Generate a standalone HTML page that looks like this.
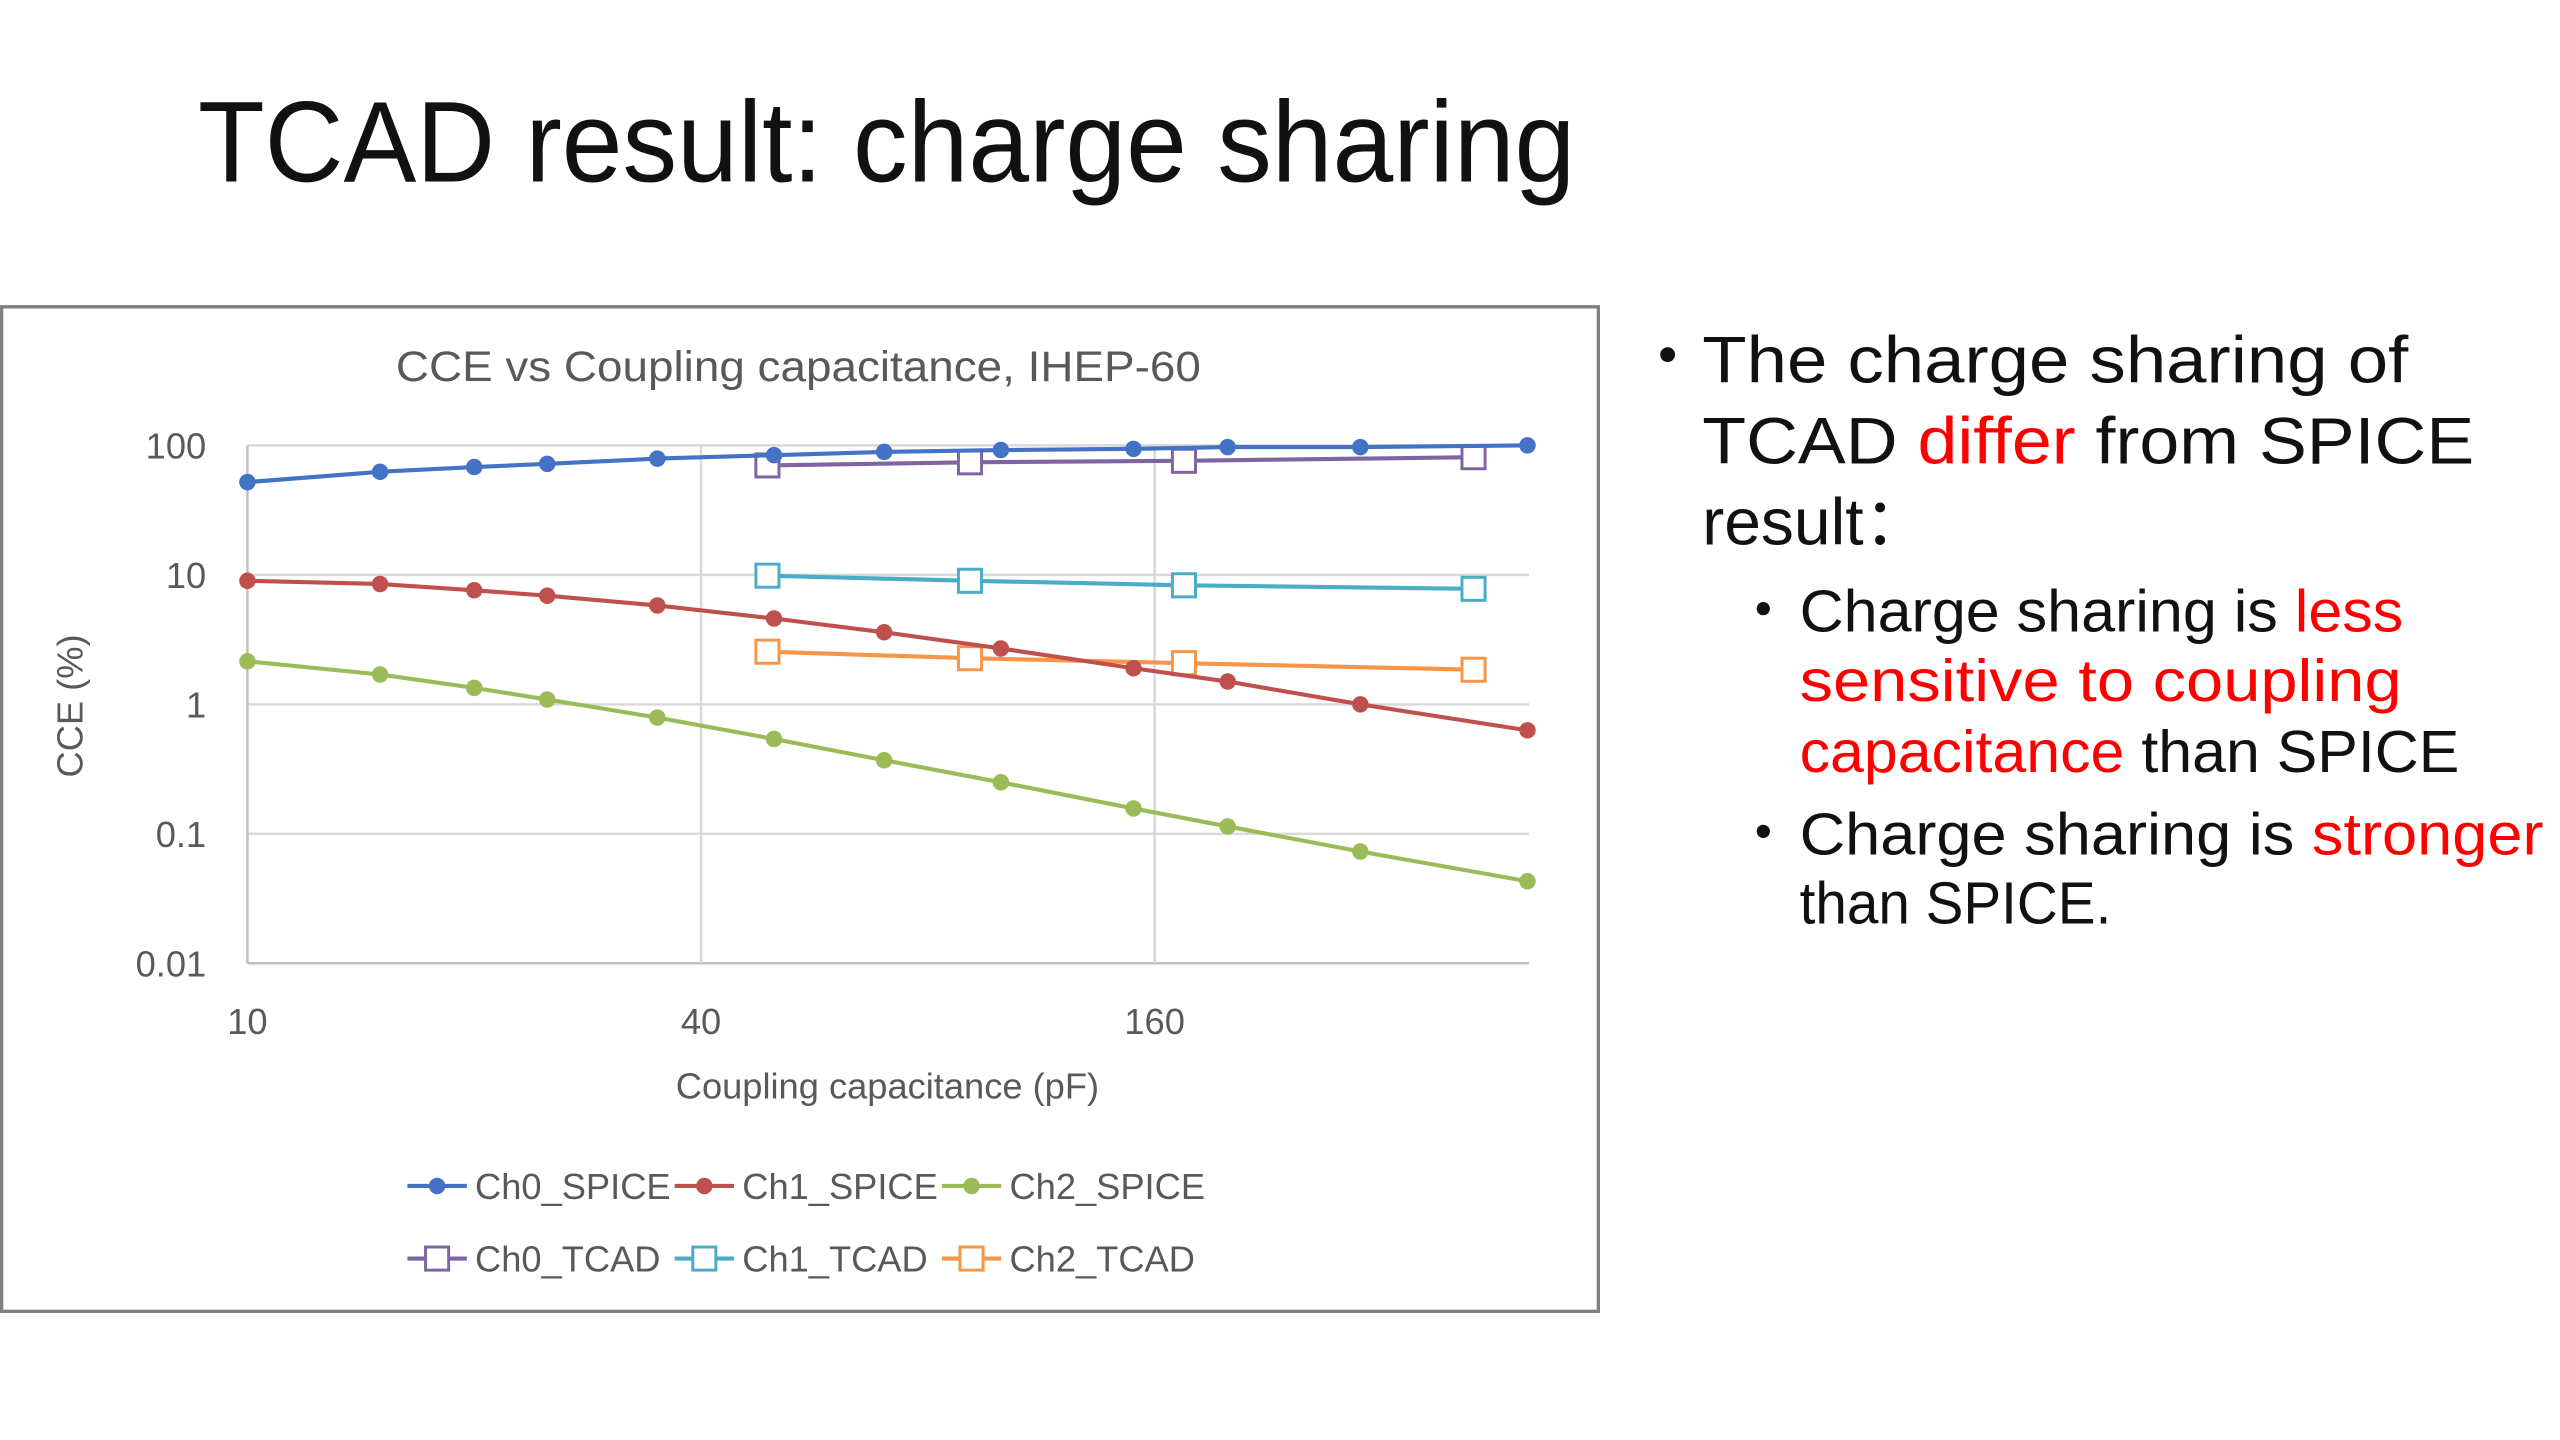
<!DOCTYPE html>
<html><head><meta charset="utf-8"><style>
html,body{margin:0;padding:0;background:#fff;width:2560px;height:1440px;overflow:hidden}
svg{display:block}
text{font-family:"Liberation Sans","Noto Sans CJK SC",sans-serif}
</style></head><body>
<svg id="page" width="2560" height="1440" viewBox="0 0 1552 873" preserveAspectRatio="none" xmlns="http://www.w3.org/2000/svg">
<rect width="1552" height="873" fill="#fff"/>
<text x="120" y="110" font-size="70" fill="#111" textLength="835" lengthAdjust="spacingAndGlyphs">TCAD result: charge sharing</text>

<rect x="1" y="186" width="968" height="609" fill="#fff" stroke="#7f7f7f" stroke-width="2"/>
<text x="484" y="231" font-size="26" fill="#595959" text-anchor="middle" textLength="488" lengthAdjust="spacingAndGlyphs">CCE vs Coupling capacitance, IHEP-60</text>
<g id="grid"></g>
<g id="marks"></g>
<text transform="translate(50,428) rotate(-90)" font-size="22" fill="#595959" text-anchor="middle">CCE (%)</text>
<text x="538" y="666" font-size="22" fill="#595959" text-anchor="middle">Coupling capacitance (pF)</text>
<g id="legend"></g>

<g fill="#111">
<circle cx="1011" cy="215" r="4.5"/>
<text x="1032" y="232" font-size="40" textLength="428" lengthAdjust="spacingAndGlyphs">The charge sharing of</text>
<text x="1032" y="281" font-size="40" textLength="468" lengthAdjust="spacingAndGlyphs">TCAD <tspan fill="#ff0000">differ</tspan> from SPICE</text>
<text x="1032" y="330" font-size="40">result：</text>
<circle cx="1069" cy="369" r="4"/>
<text x="1091" y="383" font-size="36" textLength="366" lengthAdjust="spacingAndGlyphs">Charge sharing is <tspan fill="#ff0000">less</tspan></text>
<text x="1091" y="425" font-size="36" fill="#ff0000" textLength="365" lengthAdjust="spacingAndGlyphs">sensitive to coupling</text>
<text x="1091" y="468" font-size="36" textLength="400" lengthAdjust="spacingAndGlyphs"><tspan fill="#ff0000">capacitance</tspan> than SPICE</text>
<circle cx="1069" cy="504" r="4"/>
<text x="1091" y="518" font-size="36" textLength="451" lengthAdjust="spacingAndGlyphs">Charge sharing is <tspan fill="#ff0000">stronger</tspan></text>
<text x="1091" y="560" font-size="36" textLength="189" lengthAdjust="spacingAndGlyphs">than SPICE.</text>
</g>
</svg>
<script>
const spiceX = [10,15,20,25,35,50,70,100,150,200,300,500];
const ch0Spice = [52,62.5,68,72,79,84,89,92,94,97,97,100];
const ch1Spice = [9.0,8.5,7.6,6.9,5.8,4.6,3.6,2.7,1.9,1.5,1.0,0.63];
const ch2Spice = [2.15,1.7,1.34,1.09,0.79,0.54,0.37,0.25,0.157,0.114,0.073,0.043];
const tcadX = [49,91,175,424];
const ch0Tcad = [70,74,76,81];
const ch1Tcad = [9.85,9.0,8.3,7.8];
const ch2Tcad = [2.55,2.27,2.08,1.85];
const yTicks = [0.01,0.1,1,10,100];
const yTickLabels = ["0.01","0.1","1","10","100"];
const xTicks = [10,40,160];
const xTickLabels = ["10","40","160"];
const seriesNames = ["Ch0_SPICE","Ch1_SPICE","Ch2_SPICE","Ch0_TCAD","Ch1_TCAD","Ch2_TCAD"];

const NS="http://www.w3.org/2000/svg";
const X0=150,X1=927,Y0=584,DEC=78.5;
function xs(v){return X0+275*Math.log(v/10)/Math.log(4);}
function ys(v){return 427-DEC*Math.log10(v);}
function mk(tag,attrs,parent){const e=document.createElementNS(NS,tag);for(const k in attrs)e.setAttribute(k,attrs[k]);parent.appendChild(e);return e;}
const grid=document.getElementById('grid'),marks=document.getElementById('marks'),legend=document.getElementById('legend');
yTicks.forEach((t,i)=>{
  const l=mk('line',{x1:X0,x2:X1,y1:ys(t),y2:ys(t),stroke:i===0?'#bfbfbf':'#d9d9d9','stroke-width':1.5},grid);
  
  
  const tx=mk('text',{x:125,y:ys(t)+8,'font-size':22,fill:'#595959','text-anchor':'end'},grid);
  tx.textContent=yTickLabels[i];
  
  
});
xTicks.forEach((t,i)=>{
  const l=mk('line',{x1:xs(t),x2:xs(t),y1:ys(100),y2:Y0,stroke:i===0?'#bfbfbf':'#d9d9d9','stroke-width':1.5},grid);
  
  
  const tx=mk('text',{x:xs(t),y:627,'font-size':22,fill:'#595959','text-anchor':'middle'},grid);
  tx.textContent=xTickLabels[i];
  
  
});
const defs=[
 {x:tcadX,y:ch0Tcad,c:'#8064A2',sq:true},
 {x:tcadX,y:ch1Tcad,c:'#4BACC6',sq:true},
 {x:tcadX,y:ch2Tcad,c:'#F79646',sq:true},
 {x:spiceX,y:ch0Spice,c:'#4472C4',sq:false},
 {x:spiceX,y:ch1Spice,c:'#C0504D',sq:false},
 {x:spiceX,y:ch2Spice,c:'#9BBB59',sq:false}];
const nameIdx=[3,4,5,0,1,2];
defs.forEach((s,k)=>{
  const g=mk('g',{},marks);
  
  
  const pts=s.x.map((x,i)=>xs(x)+','+ys(s.y[i])).join(' ');
  const pl=mk('polyline',{points:pts,fill:'none',stroke:s.c,'stroke-width':2.5},g);
  
  
  s.x.forEach((x,i)=>{
    let m;
    if(s.sq) m=mk('rect',{x:xs(x)-7,y:ys(s.y[i])-7,width:14,height:14,fill:'#fff',stroke:s.c,'stroke-width':1.8},g);
    else m=mk('circle',{cx:xs(x),cy:ys(s.y[i]),r:5,fill:s.c},g);
    
    
  });
});
const legCols=['#4472C4','#C0504D','#9BBB59','#8064A2','#4BACC6','#F79646'];
seriesNames.forEach((n,i)=>{
  const col=i%3,row=Math.floor(i/3);
  const lx=247+col*162,ly=row?763:719;
  const g=mk('g',{},legend);
  
  
  mk('line',{x1:lx,x2:lx+36,y1:ly,y2:ly,stroke:legCols[i],'stroke-width':2.5},g);
  if(row) mk('rect',{x:lx+11,y:ly-7,width:14,height:14,fill:'#fff',stroke:legCols[i],'stroke-width':1.8},g);
  else mk('circle',{cx:lx+18,cy:ly,r:5,fill:legCols[i]},g);
  const t=mk('text',{x:lx+41,y:ly+8,'font-size':22,fill:'#595959'},g);
  t.textContent=n;
});
</script>
</body></html>
